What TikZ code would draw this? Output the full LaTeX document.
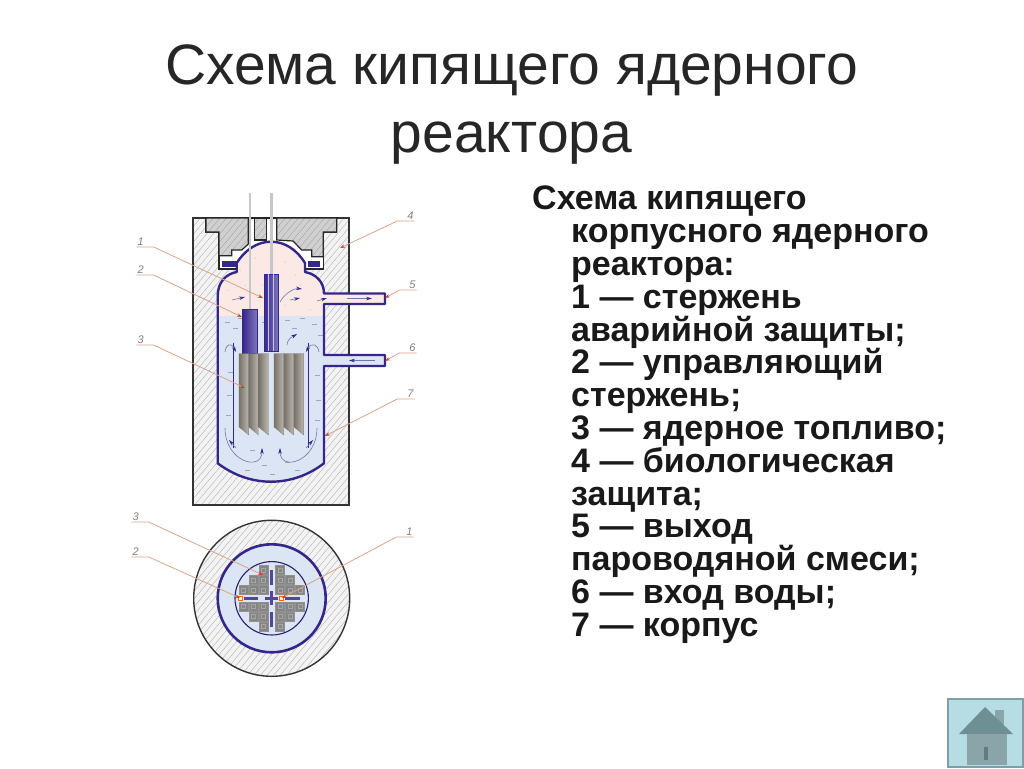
\documentclass[tikz,border=0pt]{standalone}
\usepackage{fontspec}
\setmainfont{Liberation Sans}
\usetikzlibrary{arrows.meta,patterns.meta}

\definecolor{vesselblue}{HTML}{35278A}
\definecolor{rodblue}{HTML}{4A3CA0}
\definecolor{steampink}{HTML}{FBE9E6}
\definecolor{waterblue}{HTML}{DCE5F4}
\definecolor{leadercol}{HTML}{D8A48C}
\definecolor{tipred}{HTML}{C8402A}
\definecolor{shieldgray}{HTML}{F3F3F3}
\definecolor{plugcol}{HTML}{D0D0D0}
\definecolor{fuelcol}{HTML}{858585}
\definecolor{fueldark}{HTML}{77736B}
\definecolor{fuellight}{HTML}{BDB9AF}
\definecolor{flowcol}{HTML}{6E78A8}
\definecolor{speckcol}{HTML}{9AA6C4}
\definecolor{buttonbg}{HTML}{B5DDE3}
\definecolor{buttonline}{HTML}{7E9FA4}
\definecolor{roofcol}{HTML}{6E8F94}
\definecolor{wallcol}{HTML}{8AA5AA}
\definecolor{doorcol}{HTML}{5F7C80}

\tikzset{
  shield/.style={preaction={fill=shieldgray}, pattern={Lines[angle=50,distance=5pt,line width=0.4pt]}, pattern color=gray!60},
  plug/.style={preaction={fill=plugcol}, pattern={Lines[angle=50,distance=5pt,line width=0.3pt]}, pattern color=gray!80, draw=black!85, line width=1.2},
  vessel/.style={draw=vesselblue, line width=2.4, line join=round},
  leader/.style={draw=leadercol, line width=0.8, -{Stealth[length=5pt,width=3.5pt,color=tipred]}},
  lab/.style={font=\fontsize{11}{11}\selectfont\itshape, text=black!50, text width=15, inner sep=1, anchor=south},
  flow/.style={draw=flowcol, line width=0.6, -{Stealth[length=6pt,width=3.5pt,color=vesselblue]}},
  rod/.style={draw=vesselblue, line width=0.6, left color=vesselblue, right color=rodblue!70},
  fuelrod/.style={left color=fueldark, right color=fuellight, draw=fueldark, line width=0.2},
  fuelbox/.style={fill=fuelcol, draw=fuelcol!90, minimum size=9.2, inner sep=0},
  crossbar/.style={fill=vesselblue!85, draw=none},
  bodytext/.style={font=\fontsize{34}{32.8}\selectfont\bfseries, text=black!90}
}

\newcommand{\vesselpath}{(217.7,463.3) -- (217.7,296) .. controls (217.7,282) and (226,274) .. (236.7,272)
  -- (236.7,263) .. controls (245,250) and (257,241.7) .. (271,241.7)
  .. controls (285,241.7) and (297,250) .. (305,263) -- (305,272)
  .. controls (316,274) and (324,282) .. (324,293.5) -- (385,293.5) -- (385,304) -- (324,304)
  -- (324,355) -- (385,355) -- (385,366) -- (324,366) -- (324,463.3)
  .. controls (310,474) and (292,481.7) .. (271,481.7)
  .. controls (250,481.7) and (232,474) .. (217.7,463.3) -- cycle}

\begin{document}
\begin{tikzpicture}[x=1pt, y=-1pt]
  \useasboundingbox (0,0) rectangle (1024,768);

  % Titulo y texto
  \node[align=center, text=black!85, font=\fontsize{57}{68}\selectfont] (title) at (511.5,105)
    {Схема кипящего ядерного\\реактора};
  \node[anchor=north west, align=left, inner sep=0, bodytext] (body) at (571,186)
    {\hspace*{-39pt}Схема кипящего\\корпусного ядерного\\реактора:\\1 — стержень\\аварийной защиты;\\2 — управляющий\\стержень;\\3 — ядерное топливо;\\4 — биологическая\\защита;\\5 — выход\\пароводяной смеси;\\6 — вход воды;\\7 — корпус};

  % Защита и полость
  \draw[shield, draw=black!80, line width=1.5] (193,218) rectangle (349,505);
  \draw[fill=white, draw=black!85, line width=1.2] (206,218) -- (206,232) -- (219,232) -- (219,269) -- (323.3,269) -- (323.3,232) -- (336.7,232) -- (336.7,218) -- cycle;
  \draw[plug] (206,218) -- (206,232) -- (219,232) -- (219,255.7) -- (231.7,255.7) -- (231.7,250) -- (241.7,250) -- (248.3,244) -- (248.3,218) -- cycle;
  \draw[plug] (254.3,218) rectangle (266.7,240);
  \draw[plug] (276.7,218) -- (336.7,218) -- (336.7,232) -- (323.3,232) -- (323.3,256.7) -- (311.7,256.7) -- (311.7,250) -- (301.7,250) -- (293,241) -- (276.7,240) -- cycle;
  \fill[vesselblue] (222,261) rectangle (237,267);
  \fill[vesselblue] (308,261) rectangle (320,267);

  % Корпус
  \fill[steampink] \vesselpath;
  \begin{scope}
    \clip \vesselpath;
    \fill[waterblue] (200,316) rectangle (400,490);
  \end{scope}
  \foreach \x/\y in {225/322,233/328,238/318,262/322,285/320,292/328,300/318,312/324,318/335,228/372,227/395,226/415,315/375,316/400,315/420,250/450,262/465,285/462,295/470,270/474,245/470}
    \draw[speckcol, line width=0.4] (\x,\y) -- (\x+5,\y);
  \foreach \x/\y in {240/270,255/258,262/285,285/262,295/275,300/285,228/290,245/285,285/305,250/300,232/312,310/310}
    \fill[speckcol] (\x,\y) circle (0.5);
  \draw[vessel] \vesselpath;

  % Стержни
  \draw[black!22, line width=2.6] (250,193) -- (250,310);
  \draw[black!22, line width=2.6] (271.7,193) -- (271.7,275);
  \draw[rod] (264,274.3) rectangle (278.3,351);
  \foreach \x in {268.5,273} \draw[white!70!rodblue, line width=0.5] (\x,274.3) -- (\x,351);
  \draw[rod] (242.3,309.3) rectangle (257,353);

  % Топливо
  \foreach \x in {239,248.8,258.6,274,284,294} {
    \shade[fuelrod] (\x,353.5) -- (\x+9.8,353.5) -- (\x+9.8,435) -- (\x,427) -- cycle;
  }

  % Перегородки и потоки
  \draw[vesselblue, line width=1.4] (233.3,343) -- (233.3,448);
  \draw[vesselblue, line width=1.4] (308.3,343) -- (308.3,448);
  \draw[flow] (225,428) .. controls (225,462) and (262,472) .. (262,448);
  \draw[flow] (317,428) .. controls (317,462) and (280,472) .. (280,448);
  \draw[flow] (236,448) -- (229,440);
  \draw[flow] (306,448) -- (313,440);
  \draw[flow] (225,352) .. controls (226,344) and (231,342) .. (236,352);
  \draw[flow] (319,352) .. controls (318,344) and (311,342) .. (306,352);
  \draw[flow] (287,345) .. controls (288,338) and (292,337) .. (297,334);
  \draw[flow] (280,302) .. controls (284,294) and (294,288) .. (302,289);
  \draw[flow] (232,300) -- (245,297);
  \draw[flow] (290,300) -- (300,298);
  \draw[flow] (317,301) -- (327,298);
  \draw[flow] (347,298.5) -- (372,298.5);
  \draw[flow] (375,360.5) -- (349,360.5);

  % Сечение
  \draw[shield, draw=black!80, line width=1.4] (271.7,598.3) circle (78);
  \draw[fill=waterblue, draw=vesselblue, line width=2.6] (271.7,598.3) circle (54);
  \draw[fill=waterblue, draw=vesselblue!80!black, line width=1.1] (271.7,598.3) circle (36.7);
  \foreach \a/\b in {8.3/8.3,18.3/8.3,28.3/8.3,8.3/18.3,18.3/18.3,8.3/28.3} {
    \foreach \sx in {-1,1} \foreach \sy in {-1,1} {
      \node[fuelbox] (box) at (271.7+\sx*\a,598.3+\sy*\b) {};
      \draw[black!35, line width=0.4] (271.7+\sx*\a-2,598.3+\sy*\b-2) rectangle (271.7+\sx*\a+2,598.3+\sy*\b+2);
    }
  }
  \fill[crossbar] (244,596.8) rectangle (258,599.8);
  \fill[crossbar] (285,596.8) rectangle (300,599.8);
  \fill[crossbar] (270,570) rectangle (273.4,585);
  \fill[crossbar] (270,612) rectangle (273.4,627);
  \fill[crossbar] (265,597) rectangle (278,600);
  \fill[crossbar] (270,591) rectangle (273.4,605);
  \draw[orange!80!red, line width=0.8, fill=white] (238.5,596.3) rectangle (242.5,600.3);
  \draw[orange!80!red, line width=0.8, fill=white] (279.5,596.3) rectangle (283.5,600.3);

  % Выноски
  \node[lab, align=left] (lab1) at (145,247) {1};
  \node[lab, align=left] (lab2) at (145,275) {2};
  \node[lab, align=left] (lab3) at (145,345) {3};
  \node[lab, align=right] (lab4) at (406,221) {4};
  \node[lab, align=right] (lab5) at (408,290) {5};
  \node[lab, align=right] (lab6) at (408,353) {6};
  \node[lab, align=right] (lab7) at (406,399) {7};
  \node[lab, align=left] (lab8) at (140,522) {3};
  \node[lab, align=left] (lab9) at (140,557) {2};
  \node[lab, align=right] (lab10) at (405,537) {1};
  \coordinate (tip1) at (263,298);
  \coordinate (tip2) at (242,317);
  \coordinate (tip3) at (245,388);
  \coordinate (tip4) at (340,248);
  \coordinate (tip5) at (385,298);
  \coordinate (tip6) at (385,361);
  \coordinate (tip7) at (325,436);
  \coordinate (tip8) at (263,575);
  \coordinate (tip9) at (240,598);
  \coordinate (tip10) at (282,598);
  \foreach \n in {1,2,3,8,9} \draw[leader] (lab\n.south west) -- (lab\n.south east) -- (tip\n);
  \foreach \n in {4,5,6,7,10} \draw[leader] (lab\n.south east) -- (lab\n.south west) -- (tip\n);

  % Кнопка
  \draw[fill=buttonbg, draw=buttonline, line width=2.5] (948,699) rectangle (1023,767);
  \fill[wallcol] (995,710) rectangle (1004,725);
  \fill[roofcol] (985,707) -- (1013,734) -- (959,734) -- cycle;
  \fill[wallcol] (967,734) rectangle (1007,765);
  \fill[doorcol] (984,747) rectangle (988,760);
\end{tikzpicture}
\end{document}
